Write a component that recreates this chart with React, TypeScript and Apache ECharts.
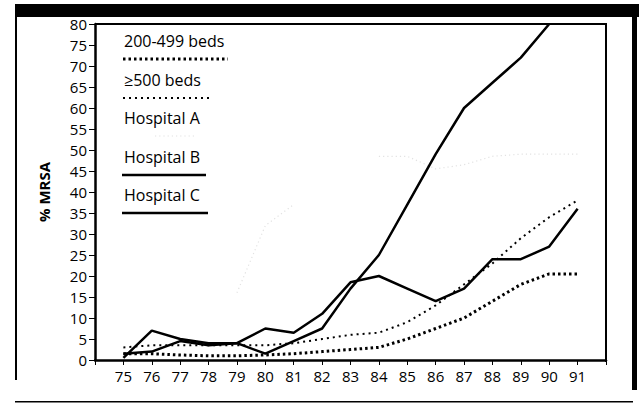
import React, { useEffect, useRef } from "react";
import * as echarts from "echarts";

const years = [74, 75, 76, 77, 78, 79, 80, 81, 82, 83, 84, 85, 86, 87, 88, 89, 90, 91];
const yTicks = [0, 5, 10, 15, 20, 25, 30, 35, 40, 45, 50, 55, 60, 65, 70, 75, 80];

const beds200: (number | null)[] = [null, 1.5, 1.5, 1.2, 1.0, 1.0, 1.2, 1.5, 2, 2.5, 3, 5, 7.5, 10, 14, 18, 20.5, 20.5];
const beds500: (number | null)[] = [null, 3, 3.5, 3.5, 3.5, 3.5, 3.5, 4, 5, 6, 6.5, 9, 13, 18, 23, 29, 34, 38];
const hospitalA: (number | null)[] = [null, null, null, null, null, 16, 32, 37, null, null, 48.5, 48.5, 45.5, 46.5, 48.5, 49, 49, 49];
const hospitalB: (number | null)[] = [null, 0.5, 7, 5, 4, 4, 7.5, 6.5, 11, 18.5, 20, 17, 14, 17, 24, 24, 27, 36];
const hospitalC: (number | null)[] = [null, 1.5, 2, 4.5, 3.5, 4, 1.5, 4.5, 7.5, 17, 25, 37, 49, 60, 66, 72, 80, null];

const legendNames = ["200-499 beds", "\u2265500 beds", "Hospital A", "Hospital B", "Hospital C"];

const FONT = "'Open Sans', Lato, sans-serif";

export default function App() {
  const ref = useRef<HTMLDivElement>(null);
  useEffect(() => {
    if (!ref.current) return;
    const chart = echarts.init(ref.current, null, { renderer: "svg" });
    const pair = (arr: (number | null)[]) => years.map((y, i) => [y, arr[i]]);
    const styles = [
      { color: "#000", width: 3, type: [2.5, 3] as any },
      { color: "#000", width: 2, type: [2, 4] as any },
      { color: "#e2e2e2", width: 1.2, type: [1.2, 3] as any },
      { color: "#000", width: 2.5, type: "solid" as any },
      { color: "#000", width: 2.5, type: "solid" as any },
    ];
    const data = [beds200, beds500, hospitalA, hospitalB, hospitalC];
    const legendY = [41, 80, 118, 157, 195];
    const lineSpans = [
      [123, 228],
      [123, 210],
      [155, 195],
      [122, 206],
      [122, 208],
    ];
    const graphic: any[] = [
      { type: "rect", shape: { x: 15, y: 4, width: 624, height: 13 }, style: { fill: "#000" } },
      { type: "rect", shape: { x: 15, y: 17, width: 2, height: 363 }, style: { fill: "#000" } },
      { type: "rect", shape: { x: 632, y: 17, width: 5, height: 373 }, style: { fill: "#000" } },
      { type: "rect", shape: { x: 15, y: 401, width: 618, height: 1.5 }, style: { fill: "#000" } },
      { type: "line", shape: { x1: 95, y1: 24, x2: 606, y2: 24 }, style: { stroke: "#000", lineWidth: 2 } },
      { type: "line", shape: { x1: 606, y1: 23, x2: 606, y2: 362 }, style: { stroke: "#000", lineWidth: 2 } },
    ];
    legendNames.forEach((name, i) => {
      graphic.push({
        type: "text",
        x: 124,
        y: legendY[i],
        style: { text: name, fill: "#000", font: `16px ${FONT}`, textVerticalAlign: "middle" },
      });
      graphic.push({
        type: "line",
        shape: { x1: lineSpans[i][0], y1: legendY[i] + 18, x2: lineSpans[i][1], y2: legendY[i] + 18 },
        style: { stroke: styles[i].color, lineWidth: styles[i].width, lineDash: styles[i].type === "solid" ? null : styles[i].type },
      });
    });
    chart.setOption({
      animation: false,
      grid: { left: 95, right: 33, top: 24, bottom: 43 },
      xAxis: {
        type: "value",
        min: 74,
        max: 92,
        interval: 1,
        axisLine: { show: true, onZero: false, lineStyle: { color: "#000", width: 2.5 } },
        axisTick: { show: true, length: 5, lineStyle: { color: "#000", width: 1 } },
        splitLine: { show: false },
        axisLabel: {
          color: "#000",
          fontSize: 15,
          fontFamily: FONT,
          margin: 8,
          formatter: (v: number) => (v >= 75 && v <= 91 ? String(v) : ""),
        },
      },
      yAxis: {
        type: "value",
        min: 0,
        max: 80,
        interval: 5,
        name: "% MRSA",
        nameLocation: "middle",
        nameGap: 44,
        nameTextStyle: { color: "#000", fontSize: 15, fontWeight: "bold", fontFamily: FONT },
        axisLine: { show: true, lineStyle: { color: "#000", width: 2.5 } },
        axisTick: { show: true, length: 6, lineStyle: { color: "#000", width: 1 } },
        splitLine: { show: false },
        axisLabel: {
          color: "#000",
          fontSize: 15,
          fontFamily: FONT,
          margin: 8,
          formatter: (v: number) => (yTicks.includes(v) ? String(v) : ""),
        },
      },
      series: data.map((arr, i) => ({
        type: "line",
        name: legendNames[i],
        data: pair(arr),
        showSymbol: false,
        symbol: "none",
        connectNulls: false,
        clip: true,
        lineStyle: { color: styles[i].color, width: styles[i].width, type: styles[i].type },
      })),
      graphic,
    });
    return () => chart.dispose();
  }, []);
  return <div ref={ref} style={{ position: "fixed", left: 0, top: 0, width: 639, height: 403, background: "#fff" }} />;
}
